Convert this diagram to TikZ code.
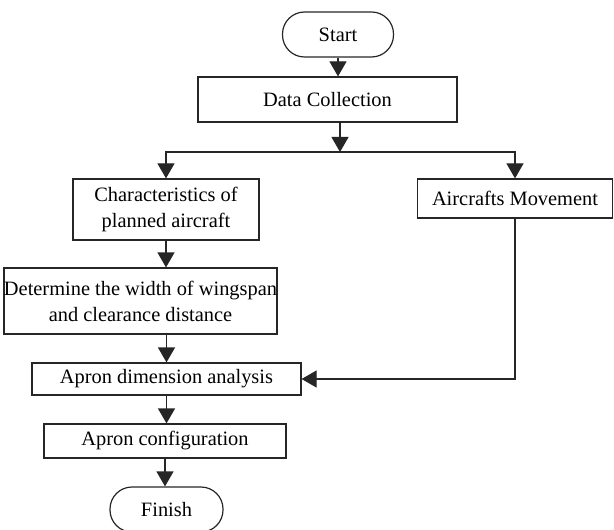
\documentclass[tikz,border=0pt]{standalone}
\usepackage{fontspec}
\setmainfont{Liberation Serif}
\usetikzlibrary{arrows.meta}

\tikzset{
  box/.style={draw=black!85, line width=0.6pt, inner sep=0pt, align=center,
    font=\fontsize{10.2}{13}\selectfont},
  term/.style={box, rounded corners=11pt},
  arr/.style={draw=black!85, line width=0.6pt, -{Triangle[width=8.5pt,length=7.5pt]}},
}

\begin{document}
\begin{tikzpicture}[x=0.5pt, y=-0.5pt]

% page size (pixels of the reference)
\useasboundingbox (0,0) rectangle (614,529);

% Terminals and process boxes
\node[term, minimum width=55.5pt, minimum height=22.5pt] (start) at (338,34.5) {Start};
\node[box, minimum width=129.5pt, minimum height=22.5pt] (data) at (327.5,99.5) {Data Collection};
\node[box, minimum width=93pt, minimum height=30.5pt] (chars) at (166,209.5) {Characteristics of\\planned aircraft};
\node[box, minimum width=97.5pt, minimum height=19.5pt] (move) at (515,198.5) {Aircrafts Movement};
\node[box, minimum width=134pt, minimum height=33pt] (wing) at (140.5,301) {Determine the width of wingspan\\and clearance distance};
\node[box, minimum width=134.5pt, minimum height=16pt] (apron) at (166.5,379) {Apron dimension analysis};
\node[box, minimum width=121pt, minimum height=17pt] (config) at (165,441) {Apron configuration};
\node[term, minimum width=56.5pt, minimum height=22.5pt] (finish) at (166.5,509.5) {Finish};

% Split point under data collection
\coordinate (split) at (340,152);

% Connectors
\draw[arr] (start.south) -- (start.south |- data.north);
\draw[arr] (split |- data.south) -- (split);
\draw[arr] (split) -| (chars.north);
\draw[arr] (split) -| (move.north);
\draw[arr] (chars.south) -- (chars.south |- wing.north);
\draw[arr] (apron.north |- wing.south) -- (apron.north);
\draw[arr] (move.south) |- (apron.east);
\draw[arr] (apron.south) -- (apron.south |- config.north);
\draw[arr] (config.south) -- (config.south |- finish.north);

\end{tikzpicture}
\end{document}
